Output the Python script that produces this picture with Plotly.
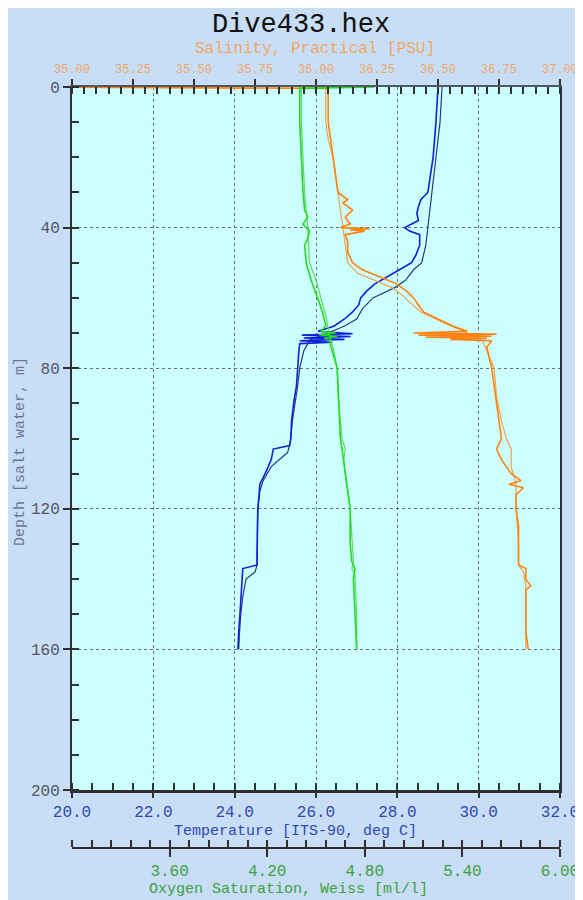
"""CTD profile plot (Dive433.hex) recreated with Plotly."""

import plotly.graph_objects as go

FONT = "Liberation Mono, Courier New, monospace"

PAGE_BG = "#C8DDF6"
PLOT_BG = "#CCFFFF"
GRID = "#687078"
AXIS_LINE = "#303030"

TEMP_COLOR = "#1020D8"
TEMP_COLOR_2 = "#283C78"
SAL_COLOR = "#FF8210"
SAL_COLOR_2 = "#F0A050"
OXY_COLOR = "#22DD22"
OXY_COLOR_2 = "#6CD06C"

TEMP_LABEL = "#3048B0"
SAL_LABEL = "#F0A868"
OXY_LABEL = "#40A040"
DEPTH_LABEL = "#505860"

# ---- data ----
temp_down_depth = [0, 10, 20, 30, 32, 34, 36, 38, 40, 41, 42, 45, 48, 50, 52, 54, 56, 58,
                   60, 62, 64, 66, 68, 69.5, 70.2, 70.6, 71.0, 71.4, 71.8, 72.2, 72.6, 73,
                   75, 80, 85, 90, 95, 100, 102, 103, 106, 110, 113, 116, 120, 125, 130,
                   136, 137, 140, 145, 150, 155, 160]
temp_down = [29.00, 28.95, 28.88, 28.75, 28.58, 28.52, 28.48, 28.52, 28.18, 28.30, 28.55,
             28.55, 28.45, 28.35, 28.05, 27.75, 27.45, 27.25, 27.10, 27.05, 26.90, 26.70,
             26.45, 26.05, 26.90, 25.65, 26.85, 25.70, 26.70, 25.60, 26.40, 25.60, 25.58,
             25.55, 25.52, 25.45, 25.40, 25.38, 25.35, 24.95, 24.90, 24.75, 24.62, 24.60,
             24.57, 24.56, 24.55, 24.55, 24.20, 24.18, 24.15, 24.13, 24.10, 24.08]

temp_up_depth = [0, 10, 20, 30, 40, 45, 50, 52, 55, 57, 60, 63, 66, 68, 70, 72, 75, 80, 85,
                 90, 95, 100, 102, 104, 108, 112, 115, 120, 130, 136, 138, 140, 145, 150,
                 155, 160]
temp_up = [29.10, 29.05, 28.95, 28.85, 28.75, 28.70, 28.60, 28.40, 28.20, 27.95, 27.40,
           27.15, 27.00, 26.70, 26.30, 25.85, 25.70, 25.60, 25.55, 25.48, 25.42, 25.38,
           25.35, 25.30, 24.90, 24.70, 24.62, 24.57, 24.55, 24.55, 24.50, 24.28, 24.20,
           24.15, 24.12, 24.10]

sal_down_depth = [0, 0.4, 5, 10, 15, 20, 25, 30, 32, 33, 35, 37, 39, 40, 40.3, 40.6, 41, 42,
                  44, 47, 50, 52, 54, 56, 58, 60, 62, 64, 66, 68, 69.5, 70, 70.3, 70.6,
                  70.9, 71.2, 71.5, 71.8, 72.2, 74, 80, 85, 90, 95, 100, 103, 106, 110,
                  112, 113, 114, 116, 120, 125, 130, 136, 137, 140, 142, 143, 150, 155, 160]
sal_down = [34.80, 36.05, 36.05, 36.05, 36.06, 36.07, 36.08, 36.09, 36.13, 36.11, 36.15,
            36.12, 36.14, 36.10, 36.22, 36.14, 36.20, 36.12, 36.13, 36.13, 36.15, 36.19,
            36.26, 36.33, 36.37, 36.40, 36.42, 36.44, 36.50, 36.56, 36.62, 36.40, 36.74,
            36.42, 36.72, 36.45, 36.70, 36.55, 36.72, 36.70, 36.72, 36.73, 36.74, 36.75,
            36.76, 36.74, 36.76, 36.80, 36.84, 36.79, 36.85, 36.82, 36.82, 36.83, 36.83,
            36.83, 36.86, 36.86, 36.88, 36.86, 36.86, 36.86, 36.87]

sal_up_depth = [0, 10, 15, 20, 30, 40, 45, 50, 53, 55, 57, 59, 61, 64, 67, 70, 72, 75, 80,
                88, 95, 100, 103, 108, 113, 120, 130, 136, 138, 142, 150, 160]
sal_up = [36.04, 36.04, 36.05, 36.07, 36.09, 36.11, 36.12, 36.13, 36.17, 36.24, 36.31,
          36.35, 36.38, 36.43, 36.52, 36.62, 36.68, 36.70, 36.73, 36.74, 36.76, 36.78,
          36.80, 36.80, 36.82, 36.82, 36.83, 36.83, 36.85, 36.86, 36.86, 36.86]

oxy_down_depth = [0, 0.4, 10, 20, 30, 35, 37, 39, 41, 43, 45, 50, 55, 60, 64, 68, 69.5, 70,
                  70.5, 71, 71.5, 72, 75, 80, 90, 100, 103, 110, 120, 130, 135, 137, 140,
                  150, 160]
oxy_down = [4.86, 4.40, 4.40, 4.41, 4.42, 4.43, 4.45, 4.42, 4.46, 4.45, 4.43, 4.44, 4.47,
            4.51, 4.54, 4.56, 4.53, 4.62, 4.52, 4.63, 4.55, 4.58, 4.60, 4.63, 4.64, 4.65,
            4.66, 4.68, 4.71, 4.71, 4.72, 4.74, 4.73, 4.74, 4.75]

oxy_up_depth = [0, 10, 20, 30, 40, 50, 55, 60, 65, 70, 75, 80, 90, 100, 103, 106, 110, 120,
                135, 137, 139, 150, 160]
oxy_up = [4.41, 4.41, 4.42, 4.43, 4.45, 4.46, 4.50, 4.53, 4.56, 4.58, 4.61, 4.63, 4.64,
          4.66, 4.68, 4.67, 4.68, 4.71, 4.73, 4.72, 4.74, 4.75, 4.75]

depth_ticks = [0, 40, 80, 120, 160, 200]
oxy_ticks = [3.60, 4.20, 4.80, 5.40, 6.00]

fig = go.Figure()

fig.add_trace(go.Scatter(x=temp_up, y=temp_up_depth, xaxis="x", yaxis="y", mode="lines",
                         line={"color": TEMP_COLOR_2, "width": 1.2}, name="Temperature up"))
fig.add_trace(go.Scatter(x=temp_down, y=temp_down_depth, xaxis="x", yaxis="y", mode="lines",
                         line={"color": TEMP_COLOR, "width": 1.6}, name="Temperature down"))
fig.add_trace(go.Scatter(x=sal_up, y=sal_up_depth, xaxis="x2", yaxis="y", mode="lines",
                         line={"color": SAL_COLOR_2, "width": 1.2}, name="Salinity up"))
fig.add_trace(go.Scatter(x=sal_down, y=sal_down_depth, xaxis="x2", yaxis="y", mode="lines",
                         line={"color": SAL_COLOR, "width": 1.6}, name="Salinity down"))
fig.add_trace(go.Scatter(x=oxy_up, y=oxy_up_depth, xaxis="x3", yaxis="y", mode="lines",
                         line={"color": OXY_COLOR_2, "width": 1.2}, name="Oxygen up"))
fig.add_trace(go.Scatter(x=oxy_down, y=oxy_down_depth, xaxis="x3", yaxis="y", mode="lines",
                         line={"color": OXY_COLOR, "width": 1.6}, name="Oxygen down"))

# figure is 583 x 892, sitting 8 px in from the top-left of the page (runs past the right edge).
# plot area in figure px: 64..552 wide, 79..782 tall; oxygen axis floats at 840 px
plot_bottom = (840 - 782) / 761


def px_x(page_x):
    return (page_x - 72) / 488


def px_y(page_y):
    return (848 - page_y) / 761


fig.update_layout(
    width=583,
    height=892,
    autosize=False,
    margin={"l": 64, "r": 31, "t": 79, "b": 52},
    paper_bgcolor=PAGE_BG,
    plot_bgcolor=PLOT_BG,
    showlegend=False,
    font={"family": FONT, "size": 16},
    title={"text": "Dive433.hex", "x": 293 / 583, "xanchor": "center",
           "y": 1 - 15 / 892, "yanchor": "middle",
           "font": {"family": FONT, "size": 27, "color": "#101010"}},
    xaxis={
        "range": [20, 32], "tickmode": "linear", "tick0": 20, "dtick": 2,
        "tickformat": ".1f", "ticks": "outside", "ticklen": 5, "tickwidth": 1.5,
        "tickcolor": AXIS_LINE, "tickfont": {"color": TEMP_LABEL, "size": 16},
        "showline": True, "linecolor": AXIS_LINE, "linewidth": 2.5,
        "showgrid": True, "gridcolor": GRID, "griddash": "dot", "gridwidth": 1,
        "zeroline": False, "anchor": "y",
        "minor": {"dtick": 0.5, "ticks": "inside", "ticklen": 7, "tickcolor": AXIS_LINE,
                  "showgrid": False},
    },
    xaxis2={
        "range": [35, 37], "overlaying": "x", "side": "top", "anchor": "y",
        "tickmode": "linear", "tick0": 35, "dtick": 0.25, "tickformat": ".2f",
        "ticks": "outside", "ticklen": 6, "tickwidth": 1.5, "tickcolor": AXIS_LINE,
        "tickfont": {"color": SAL_LABEL, "size": 12}, "ticklabelstandoff": 1,
        "showline": True, "linecolor": "#505860", "linewidth": 1.5,
        "showgrid": False, "zeroline": False,
        "minor": {"dtick": 0.05, "ticks": "inside", "ticklen": 7, "tickcolor": AXIS_LINE,
                  "showgrid": False},
    },
    xaxis3={
        "range": [3, 6], "overlaying": "x", "side": "bottom", "anchor": "free",
        "position": 0, "tickmode": "array", "tickvals": oxy_ticks, "tickformat": ".2f",
        "ticks": "outside", "ticklen": 8, "tickwidth": 1.5, "tickcolor": AXIS_LINE,
        "tickfont": {"color": OXY_LABEL, "size": 16},
        "showline": True, "linecolor": AXIS_LINE, "linewidth": 1.5,
        "showgrid": False, "zeroline": False,
        "minor": {"tickmode": "linear", "tick0": 3.0, "dtick": 0.12, "ticks": "inside",
                  "ticklen": 7, "tickcolor": AXIS_LINE, "showgrid": False},
    },
    yaxis={
        "range": [200, 0], "domain": [plot_bottom, 1], "tickmode": "array",
        "tickvals": depth_ticks, "ticks": "outside", "ticklen": 7, "tickwidth": 1.5,
        "tickcolor": AXIS_LINE, "tickfont": {"color": DEPTH_LABEL, "size": 16},
        "showline": True, "mirror": True, "linecolor": AXIS_LINE, "linewidth": 2,
        "showgrid": True, "gridcolor": GRID, "griddash": "dot", "gridwidth": 1,
        "zeroline": False,
        "minor": {"tickmode": "linear", "tick0": 0, "dtick": 10, "ticks": "inside",
                  "ticklen": 7, "tickcolor": AXIS_LINE, "showgrid": False},
    },
    annotations=[
        {"text": "Salinity, Practical [PSU]", "xref": "paper", "yref": "paper",
         "x": px_x(315), "y": px_y(49), "showarrow": False,
         "xanchor": "center", "yanchor": "middle",
         "font": {"family": FONT, "size": 16, "color": SAL_LABEL}},
        {"text": "Temperature [ITS-90, deg C]", "xref": "paper", "yref": "paper",
         "x": px_x(295), "y": px_y(831), "showarrow": False,
         "xanchor": "center", "yanchor": "middle",
         "font": {"family": FONT, "size": 15, "color": TEMP_LABEL}},
        {"text": "Oxygen Saturation, Weiss [ml/l]", "xref": "paper", "yref": "paper",
         "x": px_x(288), "y": px_y(890), "showarrow": False,
         "xanchor": "center", "yanchor": "middle",
         "font": {"family": FONT, "size": 15, "color": OXY_LABEL}},
        {"text": "Depth [salt water, m]", "xref": "paper", "yref": "paper",
         "x": px_x(20), "y": px_y(452), "showarrow": False,
         "textangle": -90, "xanchor": "center", "yanchor": "middle",
         "font": {"family": FONT, "size": 15, "color": "#687890"}},
    ],
)

# fixed-size figure; hide page scrollbars so nothing covers its right edge
fig.write_html(
    "out.html",
    config={"responsive": False},
    post_script=(
        "document.documentElement.style.overflow = 'hidden';"
        "document.body.style.overflow = 'hidden';"
    ),
)
